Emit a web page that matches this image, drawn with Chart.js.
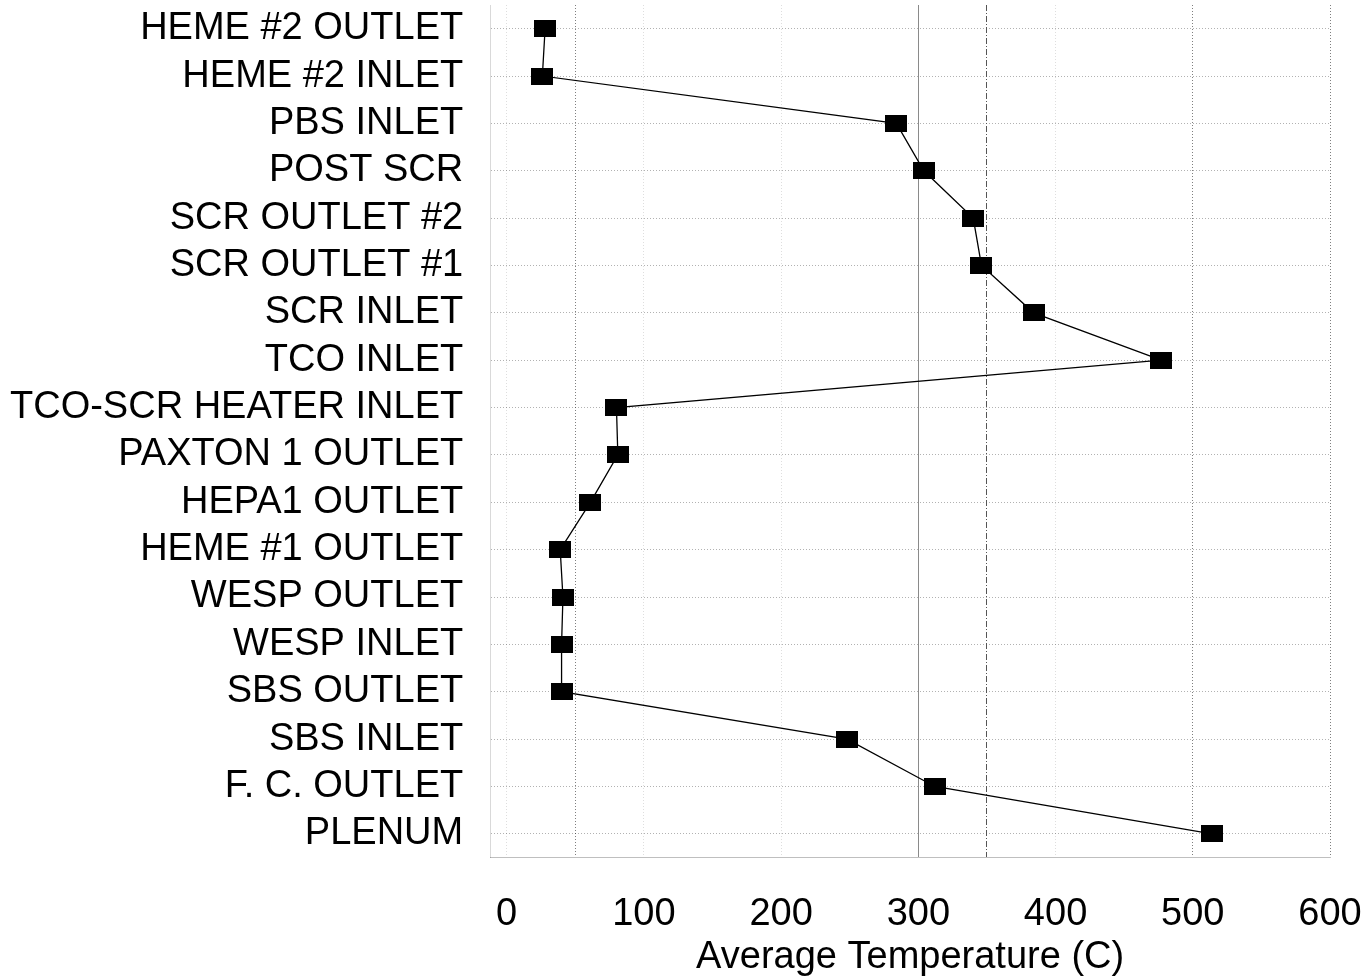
<!DOCTYPE html>
<html>
<head>
<meta charset="utf-8">
<style>
  html, body { margin: 0; padding: 0; background: #fff; }
  #tempChart { display: block; }
</style>
<script src="https://cdn.jsdelivr.net/npm/chart.js@4/dist/chart.umd.min.js"></script>
</head>
<body>
<canvas id="tempChart" width="1368" height="977"></canvas>
<script>
// sampling locations, top of the axis first
const locations = [
    'HEME #2 OUTLET', 'HEME #2 INLET', 'PBS INLET', 'POST SCR',
    'SCR OUTLET #2', 'SCR OUTLET #1', 'SCR INLET', 'TCO INLET',
    'TCO-SCR HEATER INLET', 'PAXTON 1 OUTLET', 'HEPA1 OUTLET', 'HEME #1 OUTLET',
    'WESP OUTLET', 'WESP INLET', 'SBS OUTLET', 'SBS INLET',
    'F. C. OUTLET', 'PLENUM'
];

// average temperature at each location (C)
const avgTemp = [28, 26, 284, 304, 340, 346, 384, 477, 80, 81, 61, 39, 41, 40, 40, 248, 312, 514];

const tempTicks = [0, 100, 200, 300, 400, 500, 600];

// extra vertical reference lines between the labelled ticks
const refLines = [50, 350];

const FONT = 'Arial, "Liberation Sans", sans-serif';

// filled rectangle marker, a little wider than tall
const marker = document.createElement('canvas');
marker.width = 22;
marker.height = 17;
const mctx = marker.getContext('2d');
mctx.fillStyle = '#000';
mctx.fillRect(0, 0, 22, 17);

function vLineColor(ctx) {
    if (!ctx.tick) return 'rgba(0,0,0,0.25)';
    const v = ctx.tick.value;
    if (v === 300) return '#8a8a8a';
    if (v === 350) return '#555';
    if (v === 50 || v === 500 || v === 600) return 'rgba(0,0,0,0.5)';
    return 'rgba(0,0,0,0.13)';
}

function vLineDash(ctx) {
    if (!ctx.tick) return [1, 2];
    const v = ctx.tick.value;
    if (v === 300) return [];
    if (v === 350) return [6, 2, 1, 2];
    return [1, 2];
}

const tempChart = new Chart(document.getElementById('tempChart'), {
    type: 'line',
    data: {
        labels: locations,
        datasets: [{
            label: 'Average Temperature (C)',
            data: avgTemp,
            borderColor: '#000',
            borderWidth: 1.3,
            pointStyle: marker,
            pointRadius: 10,
            pointHoverRadius: 10,
            tension: 0,
            fill: false,
        }]
    },
    options: {
        indexAxis: 'y',
        responsive: false,
        devicePixelRatio: 1,
        animation: false,
        layout: {
            autoPadding: false,
            padding: { left: 10, right: 38, top: 5, bottom: 0 }
        },
        plugins: {
            legend: { display: false },
            tooltip: { enabled: false }
        },
        scales: {
            y: {
                type: 'category',
                offset: true,
                grid: {
                    color: 'rgba(0,0,0,0.3)',
                    lineWidth: 1,
                    drawTicks: true,
                    tickLength: 27,
                    tickColor: 'rgba(0,0,0,0)'
                },
                border: {
                    display: true,
                    color: 'rgba(0,0,0,0.15)',
                    dash: [1, 2]
                },
                ticks: {
                    color: '#000',
                    padding: 0,
                    autoSkip: false,
                    // small line height keeps the first label from pushing the plot down
                    font: { family: FONT, size: 38, lineHeight: 0.05 }
                }
            },
            x: {
                type: 'linear',
                min: -12,
                max: 600,
                afterBuildTicks: (scale) => {
                    const vals = tempTicks.concat(refLines).sort((a, b) => a - b);
                    scale.ticks = vals.map(v => ({ value: v }));
                },
                grid: {
                    color: vLineColor,
                    lineWidth: 1,
                    drawTicks: true,
                    tickLength: 34,
                    tickColor: 'rgba(0,0,0,0)'
                },
                border: {
                    display: true,
                    color: 'rgba(0,0,0,0.25)',
                    dash: vLineDash
                },
                ticks: {
                    color: '#000',
                    padding: 0,
                    autoSkip: false,
                    maxRotation: 0,
                    font: { family: FONT, size: 38 },
                    callback: (value) => tempTicks.includes(value) ? value : ''
                },
                title: {
                    display: true,
                    text: 'Average Temperature (C)',
                    color: '#000',
                    font: { family: FONT, size: 38, lineHeight: 1.05 },
                    padding: { top: 0, bottom: 0 }
                }
            }
        }
    }
});
</script>
</body>
</html>
